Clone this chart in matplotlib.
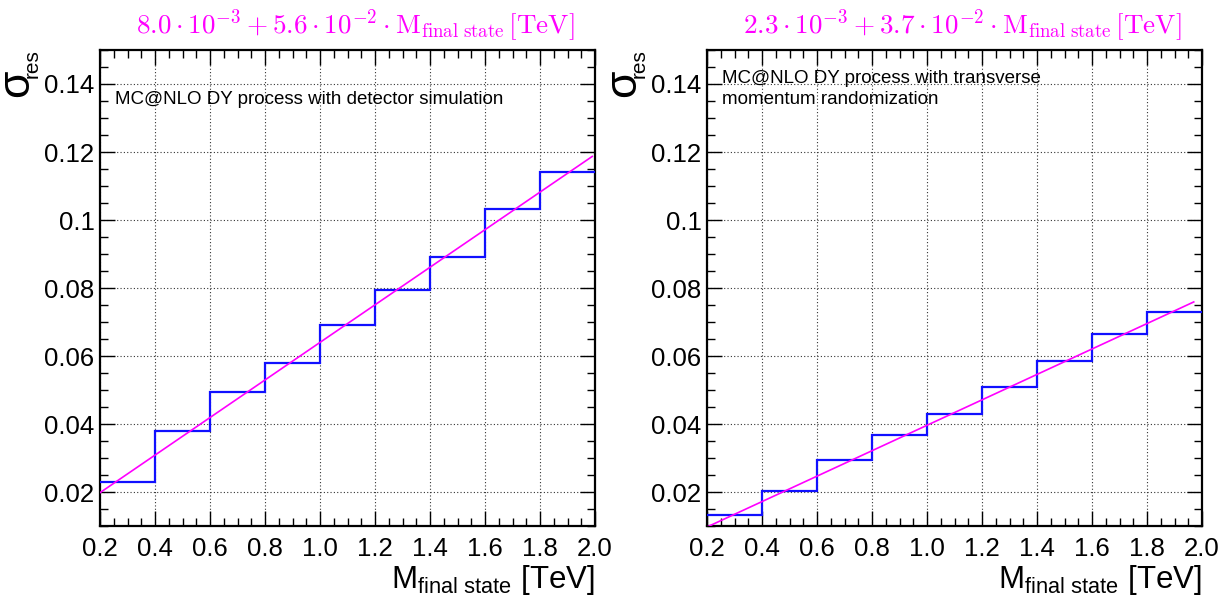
import matplotlib
matplotlib.use("Agg")
from matplotlib import pyplot as plt
from matplotlib.ticker import MultipleLocator, FuncFormatter
import numpy as np

plt.rcParams['font.family'] = ['Liberation Sans', 'DejaVu Sans']
plt.rcParams['mathtext.fontset'] = 'custom'
plt.rcParams['mathtext.rm'] = 'Liberation Sans'
plt.rcParams['mathtext.it'] = 'Liberation Sans:italic'

# bin edges of the mass histogram [TeV]
bin_edges = [0.2, 0.4, 0.6, 0.8, 1.0, 1.2, 1.4, 1.6, 1.8, 2.0]

# resolution per bin, detector simulation (left)
sigma_detector = [0.0229, 0.0379, 0.0493, 0.0579, 0.0690, 0.0793, 0.0892, 0.1033, 0.1141]
# resolution per bin, pT randomization (right)
sigma_randomized = [0.0133, 0.0202, 0.0293, 0.0369, 0.0429, 0.0509, 0.0584, 0.0665, 0.0730]

# linear fit lines, end points
fit_detector_x = [0.2, 1.99]
fit_detector_y = [0.0198, 0.1187]
fit_randomized_x = [0.2, 1.97]
fit_randomized_y = [0.0097, 0.0759]

fit_titles = [r"$8.0\cdot10^{-3}+5.6\cdot10^{-2}\cdot\mathrm{M}_{\mathrm{final\ state}}\,[\mathrm{TeV}]$",
              r"$2.3\cdot10^{-3}+3.7\cdot10^{-2}\cdot\mathrm{M}_{\mathrm{final\ state}}\,[\mathrm{TeV}]$"]
info_texts = ["MC@NLO DY process with detector simulation",
              "MC@NLO DY process with transverse\nmomentum randomization"]

W, H = 1222, 595
fig = plt.figure(figsize=(W / 100, H / 100), dpi=100)

panels = [
    (100, sigma_detector, fit_detector_x, fit_detector_y),
    (707, sigma_randomized, fit_randomized_x, fit_randomized_y),
]

for num, (left_px, sigma, fx, fy) in enumerate(panels):
    ax = fig.add_axes([left_px / W, (H - 526) / H, 495 / W, 476 / H])

    ax.stairs(sigma, bin_edges, baseline=None, color='#1010ff', linewidth=1.6, zorder=3)
    ax.plot(fx, fy, color='#ff00ff', linewidth=1.2, zorder=4)

    ax.set_xlim(0.2, 2.0)
    ax.set_ylim(0.01, 0.15)

    ax.xaxis.set_major_locator(MultipleLocator(0.2))
    ax.xaxis.set_minor_locator(MultipleLocator(0.05))
    ax.yaxis.set_major_locator(MultipleLocator(0.02))
    ax.yaxis.set_minor_locator(MultipleLocator(0.005))
    ax.xaxis.set_major_formatter(FuncFormatter(lambda v, p: "%.1f" % v))
    ax.yaxis.set_major_formatter(FuncFormatter(lambda v, p: "%g" % round(v, 3)))

    ax.tick_params(which='both', direction='in', top=True, right=True, width=1.0)
    ax.tick_params(which='major', length=11, labelsize=18.5)
    ax.tick_params(which='minor', length=5.5)
    ax.tick_params(axis='x', which='major', pad=8)
    ax.tick_params(axis='y', which='major', pad=4)

    ax.grid(True, which='major', color='#333333', linestyle=(0, (1, 2)), linewidth=0.8)
    ax.set_axisbelow(True)
    for sp in ax.spines.values():
        sp.set_linewidth(1.6)

    # fit result on top
    fig.text((left_px + 475) / W, (H - 34) / H, fit_titles[num], color='#ff00ff',
             fontsize=19.5, ha='right', va='baseline', math_fontfamily='cm')

    # process description
    ax.text(15 / 495, 1 - 54 / 476, info_texts[num], transform=ax.transAxes,
            fontsize=13.5, ha='left', va='baseline', linespacing=1.33)

    # y title: sigma_res at the top of the axis
    fig.text((left_px - 63) / W, (H - 97) / H, "σ", fontsize=32, rotation=90,
             ha='right', va='bottom')
    fig.text((left_px - 58) / W, (H - 49) / H, "res", fontsize=15, rotation=90,
             ha='right', va='top')

    # x title
    ax.text(1.0, -0.13, r"M$_{\mathrm{final\ state}}$ [TeV]", transform=ax.transAxes,
            fontsize=22.5, ha='right', va='baseline')

fig.savefig("out.png", dpi=100)
